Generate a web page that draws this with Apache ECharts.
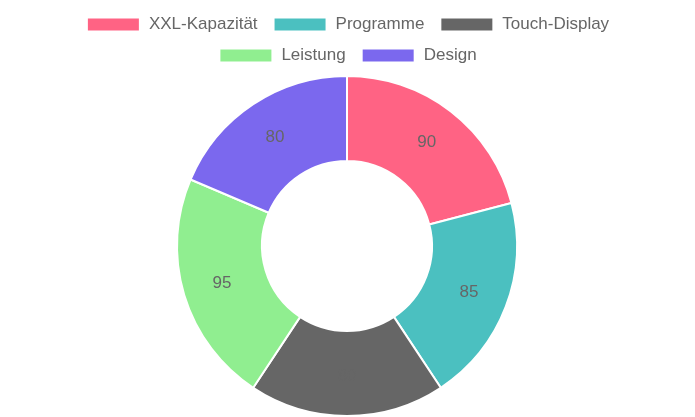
<!DOCTYPE html>
<html>
<head>
<meta charset="utf-8">
<script src="https://cdn.jsdelivr.net/npm/echarts@6/dist/echarts.min.js"></script>
<style>
  html, body { margin: 0; padding: 0; background: #fff; }
  #chart { width: 695px; height: 417px; }
</style>
</head>
<body>
<div id="chart"></div>
<script>
const categories = ['XXL-Kapazität', 'Programme', 'Touch-Display', 'Leistung', 'Design']
const values = [90, 85, 80, 95, 80]
const colors = ['#FF6384', '#4BC0C0', '#666666', '#90EE90', '#7B68EE']

const chart = echarts.init(document.getElementById('chart'))

const legendBase = {
    icon: 'rect',
    itemWidth: 53,
    itemHeight: 14,
    itemGap: 15,
    left: 'center',
    selectedMode: false,
    textStyle: {
        fontFamily: 'Liberation Sans',
        fontSize: 17,
        color: '#666',
        padding: [0, 0, 0, 4]
    }
}

const option = {
    color: colors,
    legend: [
        Object.assign({}, legendBase, { top: 11, data: categories.slice(0, 3) }),
        Object.assign({}, legendBase, { top: 42, data: categories.slice(3) })
    ],
    series: [
        {
            type: 'pie',
            radius: [85, 170],
            center: [347, 246],
            startAngle: 90,
            clockwise: true,
            animation: false,
            itemStyle: {
                borderColor: '#fff',
                borderWidth: 2
            },
            label: {
                show: true,
                position: 'inside',
                formatter: '{c}',
                color: '#666',
                fontFamily: 'Liberation Sans',
                fontSize: 17
            },
            labelLine: { show: false },
            emphasis: { disabled: true },
            data: categories.map((name, i) => ({ name: name, value: values[i] }))
        }
    ]
}

chart.setOption(option)
</script>
</body>
</html>
